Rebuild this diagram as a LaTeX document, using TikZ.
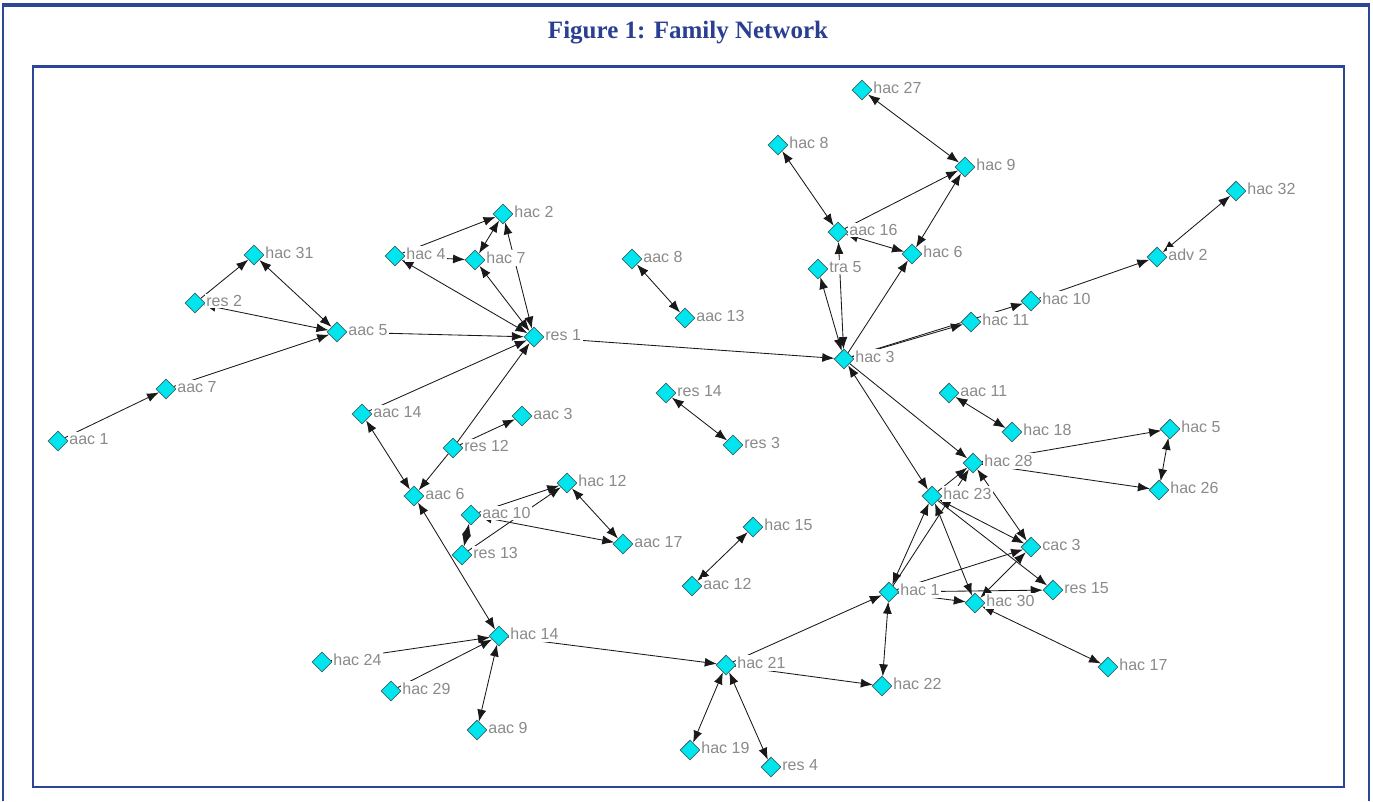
\documentclass[tikz,border=0pt]{standalone}
\usepackage{fontspec}
\setmainfont{Liberation Serif}
\newfontfamily\lblfont{Liberation Sans}
\usetikzlibrary{shapes.geometric,arrows.meta}
\pgfdeclarelayer{background}
\pgfsetlayers{background,main}
\definecolor{frameblue}{HTML}{2B4597}
\definecolor{titleblue}{HTML}{2A3F92}
\definecolor{nodecyan}{HTML}{00E5EE}
\definecolor{nodeborder}{HTML}{3C6464}
\definecolor{lblgray}{HTML}{8A8A8A}
\tikzset{
  nd/.style={diamond,draw=nodeborder,fill=nodecyan,line width=0.8pt,inner sep=0pt,minimum size=20pt},
  lbl/.style={font=\lblfont\fontsize{16}{16}\selectfont,text=lblgray,fill=white,inner sep=1.8pt,yshift=2pt},
  every label/.style={lbl},
  label distance=-1pt,
  edge/.style={draw=black!90,line width=0.85pt},
  fwd/.style={edge,-{Latex[length=12pt,width=9pt]}},
  both/.style={edge,{Latex[length=12pt,width=9pt]}-{Latex[length=12pt,width=9pt]}},
  frameline/.style={draw=frameblue}
}
\begin{document}
\begin{tikzpicture}[x=1pt,y=-1pt]
\useasboundingbox (0,0) rectangle (1373,801);
% frames
\draw[frameline,line width=2pt] (3,801) -- (3,5) -- (1369,5) -- (1369,801);
\draw[frameline,line width=3.5pt] (2,5) -- (1370,5);
\draw[frameline,line width=2pt] (33,66) rectangle (1344,787);
\draw[frameline,line width=3pt] (32,66) -- (1345,66);
\node[font=\bfseries\fontsize{25}{25}\selectfont,text=titleblue] (title) at (688,33) {Figure 1: Family Network};
% nodes
\node[nd,label={right:hac 27}] (hac27) at (862,90) {};
\node[nd,label={right:hac 8}] (hac8) at (778,145) {};
\node[nd,label={right:hac 9}] (hac9) at (965,167) {};
\node[nd,label={right:hac 32}] (hac32) at (1236,191) {};
\node[nd,label={right:hac 2}] (hac2) at (503,214) {};
\node[nd,label={right:aac 16}] (aac16) at (838,232) {};
\node[nd,label={right:hac 31}] (hac31) at (254,255) {};
\node[nd,label={right:hac 4}] (hac4) at (395,256) {};
\node[nd,label={right:hac 7}] (hac7) at (475,260) {};
\node[nd,label={right:aac 8}] (aac8) at (632,259) {};
\node[nd,label={right:hac 6}] (hac6) at (912,254) {};
\node[nd,label={right:adv 2}] (adv2) at (1157,257) {};
\node[nd,label={right:tra 5}] (tra5) at (818,269) {};
\node[nd,label={right:res 2}] (res2) at (195,303) {};
\node[nd,label={right:hac 10}] (hac10) at (1031,301) {};
\node[nd,label={right:aac 13}] (aac13) at (685,318) {};
\node[nd,label={right:hac 11}] (hac11) at (971,322) {};
\node[nd,label={right:aac 5}] (aac5) at (337,332) {};
\node[nd,label={right:res 1}] (res1) at (534,337) {};
\node[nd,label={right:hac 3}] (hac3) at (844,359) {};
\node[nd,label={right:aac 7}] (aac7) at (166,389) {};
\node[nd,label={right:res 14}] (res14) at (666,393) {};
\node[nd,label={right:aac 11}] (aac11) at (949,393) {};
\node[nd,label={right:aac 14}] (aac14) at (362,414) {};
\node[nd,label={right:aac 3}] (aac3) at (522,416) {};
\node[nd,label={right:hac 18}] (hac18) at (1012,432) {};
\node[nd,label={right:hac 5}] (hac5) at (1170,429) {};
\node[nd,label={right:aac 1}] (aac1) at (58,441) {};
\node[nd,label={right:res 12}] (res12) at (453,448) {};
\node[nd,label={right:res 3}] (res3) at (733,445) {};
\node[nd,label={right:hac 28}] (hac28) at (973,463) {};
\node[nd,label={right:hac 26}] (hac26) at (1159,490) {};
\node[nd,label={right:hac 23}] (hac23) at (932,496) {};
\node[nd,label={right:aac 6}] (aac6) at (414,496) {};
\node[nd,label={right:hac 12}] (hac12) at (567,483) {};
\node[nd,label={right:aac 10}] (aac10) at (471,515) {};
\node[nd,label={right:hac 15}] (hac15) at (753,527) {};
\node[nd,label={right:aac 17}] (aac17) at (623,544) {};
\node[nd,label={right:res 13}] (res13) at (462,555) {};
\node[nd,label={right:cac 3}] (cac3) at (1031,547) {};
\node[nd,label={right:aac 12}] (aac12) at (692,586) {};
\node[nd,label={right:hac 1}] (hac1) at (889,592) {};
\node[nd,label={right:res 15}] (res15) at (1053,590) {};
\node[nd,label={right:hac 30}] (hac30) at (975,603) {};
\node[nd,label={right:hac 14}] (hac14) at (499,636) {};
\node[nd,label={right:hac 24}] (hac24) at (322,662) {};
\node[nd,label={right:hac 21}] (hac21) at (726,665) {};
\node[nd,label={right:hac 17}] (hac17) at (1108,667) {};
\node[nd,label={right:hac 22}] (hac22) at (882,686) {};
\node[nd,label={right:hac 29}] (hac29) at (391,691) {};
\node[nd,label={right:aac 9}] (aac9) at (477,730) {};
\node[nd,label={right:hac 19}] (hac19) at (690,750) {};
\node[nd,label={right:res 4}] (res4) at (771,767) {};
% edges
\begin{pgfonlayer}{background}
\draw[fwd] (aac1) -- (aac7);
\draw[fwd] (aac7) -- (aac5);
\draw[fwd] (res2) -- (hac31);
\draw[both] (hac31) -- (aac5);
\draw[both] (res2) -- (aac5);
\draw[fwd] (aac5) -- (res1);
\draw[both] (res1) -- (hac4);
\draw[both] (res1) -- (hac7);
\draw[both] (res1) -- (hac2);
\draw[fwd] (hac4) -- (hac2);
\draw[fwd] (hac4) -- (hac7);
\draw[both] (hac7) -- (hac2);
\draw[fwd] (res1) -- (hac3);
\draw[fwd] (aac14) -- (res1);
\draw[fwd] (res12) -- (res1);
\draw[fwd] (res12) -- (aac6);
\draw[fwd] (res12) -- (aac3);
\draw[both] (aac14) -- (aac6);
\draw[both] (aac6) -- (hac14);
\draw[fwd] (aac10) -- (hac12);
\draw[fwd] (res13) -- (hac12);
\draw[both] (hac12) -- (aac17);
\draw[both] (aac10) -- (aac17);
\draw[both] (aac10) -- (res13);
\draw[fwd] (hac24) -- (hac14);
\draw[fwd] (hac29) -- (hac14);
\draw[both] (hac14) -- (aac9);
\draw[fwd] (hac14) -- (hac21);
\draw[fwd] (hac21) -- (hac1);
\draw[fwd] (hac21) -- (hac22);
\draw[both] (hac21) -- (hac19);
\draw[both] (hac21) -- (res4);
\draw[both] (hac1) -- (hac22);
\draw[both] (aac12) -- (hac15);
\draw[both] (aac8) -- (aac13);
\draw[both] (res14) -- (res3);
\draw[both] (hac8) -- (aac16);
\draw[both] (hac27) -- (hac9);
\draw[fwd] (aac16) -- (hac9);
\draw[both] (hac9) -- (hac6);
\draw[both] (aac16) -- (hac6);
\draw[both] (aac16) -- (hac3);
\draw[both] (tra5) -- (hac3);
\draw[fwd] (hac3) -- (hac6);
\draw[fwd] (hac3) -- (hac11);
\draw[fwd] (hac3) -- (hac10);
\draw[fwd] (hac10) -- (adv2);
\draw[both] (adv2) -- (hac32);
\draw[both] (hac3) -- (hac23);
\draw[fwd] (hac3) -- (hac28);
\draw[both] (aac11) -- (hac18);
\draw[fwd] (hac28) -- (hac5);
\draw[fwd] (hac28) -- (hac26);
\draw[both] (hac5) -- (hac26);
\draw[fwd] (hac23) -- (hac28);
\draw[fwd] (hac1) -- (hac28);
\draw[both] (hac28) -- (cac3);
\draw[both] (hac23) -- (cac3);
\draw[fwd] (hac23) -- (res15);
\draw[both] (hac1) -- (hac23);
\draw[both] (hac23) -- (hac30);
\draw[fwd] (hac1) -- (hac30);
\draw[fwd] (hac1) -- (res15);
\draw[fwd] (hac1) -- (cac3);
\draw[both] (hac30) -- (cac3);
\draw[both] (hac30) -- (hac17);
\end{pgfonlayer}
\end{tikzpicture}
\end{document}
